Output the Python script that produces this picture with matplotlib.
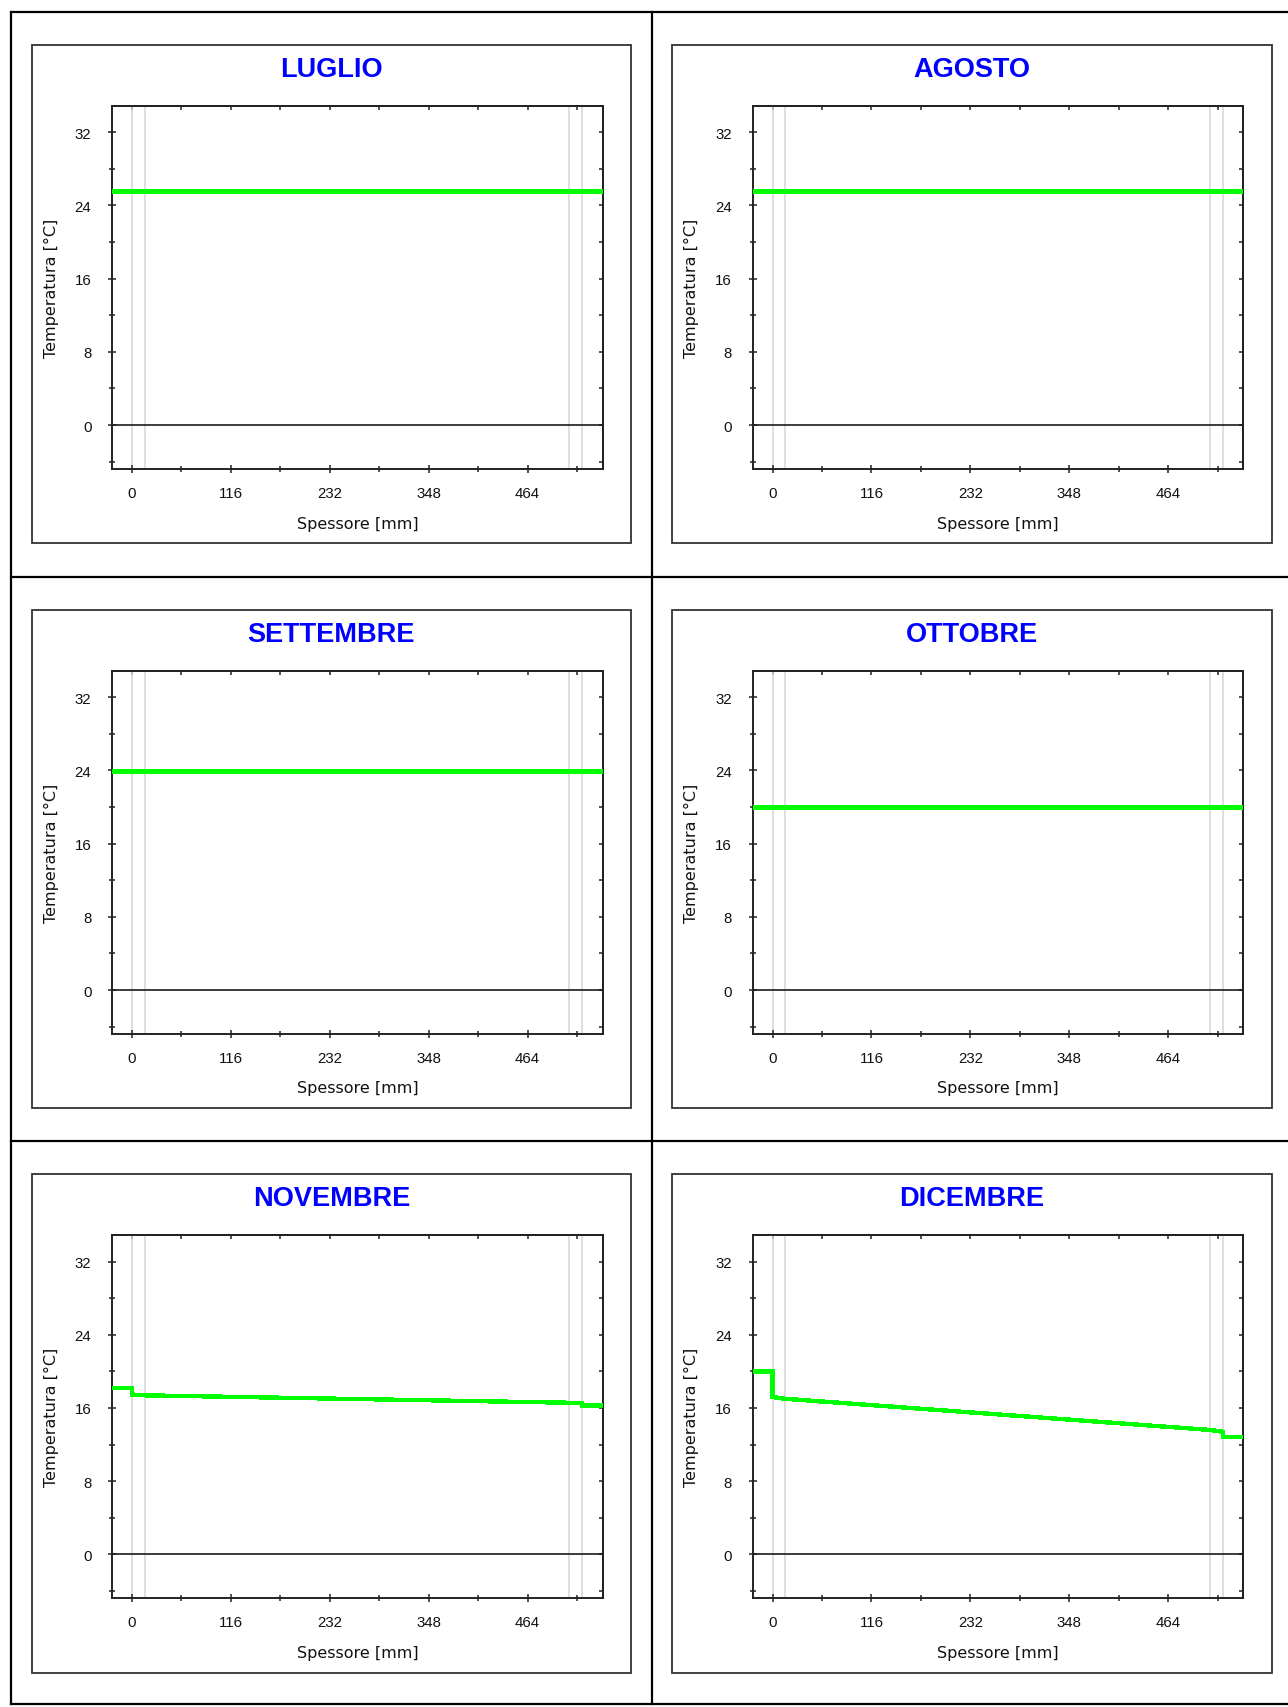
import matplotlib
matplotlib.use("Agg")
import matplotlib.pyplot as plt
from matplotlib.lines import Line2D
from matplotlib.patches import Rectangle
from matplotlib.ticker import FixedLocator

# ---- data -------------------------------------------------------------
months = ["LUGLIO", "AGOSTO", "SETTEMBRE", "OTTOBRE", "NOVEMBRE", "DICEMBRE"]

# layer interfaces of the wall (mm)
layer_bounds_mm = [0, 15, 513, 528]

# profile nodes: inside air film, wall layers, outside air film (mm)
profile_x_mm = [-23, 0, 0, 15, 513, 528, 528, 552]

temp_luglio = [25.6, 25.6, 25.6, 25.6, 25.6, 25.6, 25.6, 25.6]
temp_agosto = [25.6, 25.6, 25.6, 25.6, 25.6, 25.6, 25.6, 25.6]
temp_settembre = [23.9, 23.9, 23.9, 23.9, 23.9, 23.9, 23.9, 23.9]
temp_ottobre = [20.0, 20.0, 20.0, 20.0, 20.0, 20.0, 20.0, 20.0]
temp_novembre = [18.2, 18.2, 17.47, 17.38, 16.57, 16.5, 16.27, 16.27]
temp_dicembre = [20.0, 20.0, 17.2, 17.0, 13.6, 13.4, 12.8, 12.8]

profiles = [temp_luglio, temp_agosto, temp_settembre,
            temp_ottobre, temp_novembre, temp_dicembre]

x_major_ticks = [0, 116, 232, 348, 464]
x_minor_ticks = [58, 174, 290, 406, 522]
y_major_ticks = [0, 8, 16, 24, 32]
y_minor_ticks = [-4, 4, 12, 20, 28]

x_range = (-23, 552)
y_range = (-4.8, 34.9)

# ---- layout (pixel based) --------------------------------------------
W, H = 1288, 1708
fig = plt.figure(figsize=(W / 100, H / 100), dpi=100)
fig.patch.set_facecolor("white")


def fx(px):
    return px / W


def fy(py):
    return 1 - py / H


def hline(y, x0, x1, lw=1.6, color="black"):
    fig.add_artist(Line2D([fx(x0), fx(x1)], [fy(y), fy(y)], lw=lw,
                          color=color, transform=fig.transFigure))


def vline(x, y0, y1, lw=1.6, color="black"):
    fig.add_artist(Line2D([fx(x), fx(x)], [fy(y0), fy(y1)], lw=lw,
                          color=color, transform=fig.transFigure))


# outer table grid
table_left, table_mid = 11, 651.6
row_lines = [12.7, 577.7, 1142.0, 1705.0]
for y in row_lines:
    hline(y, table_left, W)
vline(table_left, row_lines[0], row_lines[-1])
vline(table_mid, row_lines[0], row_lines[-1])

col_panel_left = [31.7, 672.3]
row_panel_top = [46.0, 611.0, 1175.3]
panel_w, panel_h = 599.3, 498.3
ax_dx, ax_dy = 80.6, 60.7
ax_w, ax_h = 490.3, 363.3

tick_font = dict(family="Liberation Sans", size=10.8)
label_font = dict(family="DejaVu Sans", size=11.5)

for i, (month, temps) in enumerate(zip(months, profiles)):
    r, c = divmod(i, 2)
    px0 = col_panel_left[c]
    py0 = row_panel_top[r]

    # panel frame
    fig.add_artist(Rectangle((fx(px0), fy(py0 + panel_h)), panel_w / W,
                             panel_h / H, transform=fig.transFigure,
                             fill=False, lw=1.3, edgecolor="#333333"))

    # title
    fig.text(fx(px0 + panel_w / 2), fy(py0 + 24), month, ha="center",
             va="center", color="#0000FF", family="Liberation Sans",
             weight="bold", size=19.5)

    ax = fig.add_axes([fx(px0 + ax_dx), fy(py0 + ax_dy + ax_h),
                       ax_w / W, ax_h / H])
    ax.set_xlim(*x_range)
    ax.set_ylim(*y_range)

    for xb in layer_bounds_mm:
        ax.axvline(xb, color="#d4d4d4", lw=1.1, zorder=1)
    ax.axhline(0, color="#1a1a1a", lw=1.2, zorder=2)

    ax.plot(profile_x_mm, temps, color="#00FF00", lw=2.4,
            antialiased=False, solid_joinstyle="miter", zorder=3)

    for s in ax.spines.values():
        s.set_color("#222222")
        s.set_linewidth(1.4)

    ax.xaxis.set_major_locator(FixedLocator(x_major_ticks))
    ax.xaxis.set_minor_locator(FixedLocator(x_minor_ticks))
    ax.yaxis.set_major_locator(FixedLocator(y_major_ticks))
    ax.yaxis.set_minor_locator(FixedLocator(y_minor_ticks))
    ax.set_xticklabels([str(v) for v in x_major_ticks], **tick_font)
    ax.set_yticklabels([str(v) for v in y_major_ticks], **tick_font)
    ax.tick_params(which="major", direction="inout", length=6, width=1.1,
                   color="#222222", pad=9, labelcolor="#111111")
    ax.tick_params(which="minor", direction="inout", length=4, width=1.1,
                   color="#222222")
    ax.tick_params(axis="y", which="major", pad=12)

    # inward ticks on the top and right frame
    top = ax.secondary_xaxis("top")
    top.xaxis.set_major_locator(FixedLocator(x_major_ticks))
    top.xaxis.set_minor_locator(FixedLocator(x_minor_ticks))
    top.tick_params(which="both", direction="in", length=3, width=1.1,
                    color="#222222", labeltop=False)
    top.spines["top"].set_linewidth(1.4)
    top.spines["top"].set_color("#222222")
    right = ax.secondary_yaxis("right")
    right.yaxis.set_major_locator(FixedLocator(y_major_ticks))
    right.yaxis.set_minor_locator(FixedLocator(y_minor_ticks))
    right.tick_params(which="both", direction="in", length=3, width=1.1,
                      color="#222222", labelright=False)
    right.spines["right"].set_linewidth(1.4)
    right.spines["right"].set_color("#222222")

    ax.text(0.5, -54 / ax_h, "Spessore [mm]", transform=ax.transAxes,
            ha="center", va="center", color="#111111", **label_font)
    ax.text(-61 / ax_w, 0.5, "Temperatura [°C]", transform=ax.transAxes,
            ha="center", va="center", rotation=90, color="#111111",
            **label_font)

fig.savefig("out.png", dpi=100, facecolor="white")
